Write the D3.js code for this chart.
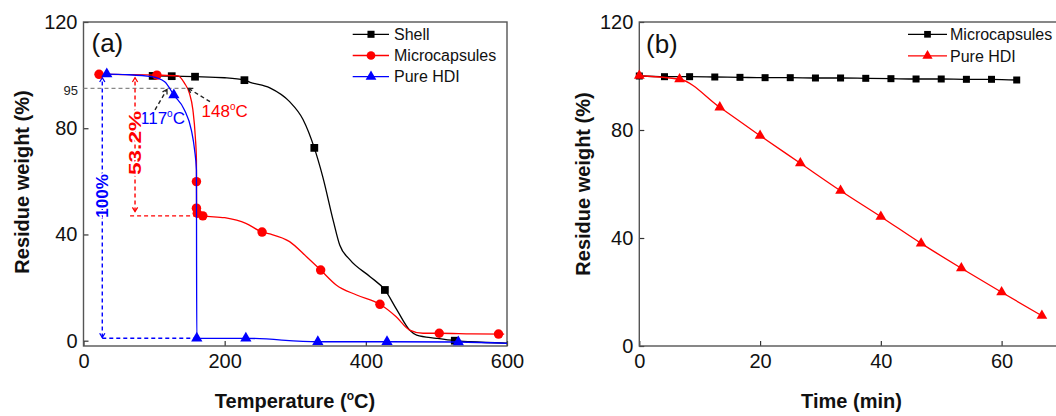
<!DOCTYPE html>
<html>
<head>
<meta charset="utf-8">
<script src="https://cdn.jsdelivr.net/npm/d3@7"></script>
<style>
body { margin: 0; background: #fff; }
text { font-family: "Liberation Sans", Arial, sans-serif; }
</style>
</head>
<body>
<svg id="chart" width="1056" height="416"></svg>
<script>
/* panel (a): TGA curves, [temperature (C), residue weight (%)] */
var shellLine = [[98,99.7],[125,99.6],[158,99.4],[200,99],[228,98.1],[236,97.3],[264,95.2],[292,90],[311,83.3],[327,72.6],[339,61.7],[354,45],[363,36],[377,30.6],[406,24.1],[427,19.1],[444,11.6],[462,4],[472,2.1],[500,0.9],[526,0],[548,-0.4],[600,-0.9]];
var shellMarks = [[98,99.7],[125,99.6],[158,99.4],[228,98.1],[327,72.6],[427,19.1],[526,0]];
var microLine = [[22,100.3],[60,100.2],[104,100],[134,99.7],[143,97],[150,93.2],[155,86.9],[158.4,76.8],[160,68],[160.1,59.9],[160.2,49.9],[161.2,48],[169,47],[200,46.3],[230,44.2],[253,40.9],[264,40.2],[292,37.3],[316,31.6],[336,26.6],[358,21],[387,17.2],[420,13.7],[443,9],[462,4],[481,2.8],[504,2.8],[550,2.6],[596,2.5]];
var microMarks = [[22,100.3],[104,100],[160,59.9],[160,49.9],[161.2,48],[169,47],[253,40.9],[336,26.6],[420,13.7],[504,2.8],[588,2.5]];
var hdiLine = [[33,100.4],[60,100.2],[96,99.4],[115,97.5],[128,92.5],[143,86.9],[152.8,79.3],[157.4,71.8],[160,64.3],[160.2,30],[160.5,0.9],[230,0.9],[332,-0.4],[430,-0.4],[531,-0.5],[600,-1]];
var hdiMarks = [[33,100.4],[128,92.5],[160.5,0.9],[230,0.9],[332,-0.4],[430,-0.4],[531,-0.5]];

/* panel (b): isothermal weight loss */
var timeMicro = [0,4.17,8.33,12.5,16.67,20.83,25,29.17,33.33,37.5,41.67,45.83,50,54.17,58.33,62.5];
var weightMicro = [100,99.75,99.75,99.63,99.5,99.38,99.38,99.26,99.26,99.14,99.01,98.89,98.89,98.77,98.77,98.52];
var timeHdi = [0,6.67,13.33,20,26.67,33.33,40,46.67,53.33,60,66.67];
var weightHdi = [100.1,98.8,88.4,77.9,67.7,57.5,47.9,38.0,28.8,19.9,11.2];

var tempTicks = [0,200,400,600];
var timeTicks = [0,20,40,60];
var weightTicks = [0,40,80,120];

var RED = "#ff0000", BLUE = "#0000ff", BLACK = "#000";
var svg = d3.select("#chart");

var xa = d3.scaleLinear().domain([0,600]).range([83.5,507]);
var ya = d3.scaleLinear().domain([-2,120]).range([346,22]);
var xb = d3.scaleLinear().domain([0,70]).range([639.3,1062]);
var yb = d3.scaleLinear().domain([0,120]).range([346,22]);

function axes(x, y, xt, yt) {
  var gx = svg.append("g").attr("transform","translate(0,346)")
    .call(d3.axisBottom(x).tickValues(xt).tickSizeInner(-5).tickSizeOuter(0).tickPadding(8));
  var gy = svg.append("g").attr("transform","translate(" + x.range()[0] + ",0)")
    .call(d3.axisLeft(y).tickValues(yt).tickSizeInner(-5).tickSizeOuter(0).tickPadding(6));
  [gx, gy].forEach(function(g) {
    g.select(".domain").remove();
    g.selectAll("line").attr("stroke","#333").attr("stroke-width",1.2);
    g.selectAll("text").attr("font-size",20).attr("fill","#111")
      .attr("font-family","Liberation Sans, Arial, sans-serif");
  });
  svg.append("rect").attr("x",x.range()[0]).attr("y",22)
    .attr("width",x.range()[1]-x.range()[0]).attr("height",324)
    .attr("fill","none").attr("stroke","#555").attr("stroke-width",1.4);
}
axes(xa, ya, tempTicks, weightTicks);
axes(xb, yb, timeTicks, weightTicks);

var sym = {
  square: d3.symbolSquare, circle: d3.symbolCircle, triangle: d3.symbolTriangle
};
function series(x, y, line, marks, color, shape, size) {
  var l = d3.line().x(function(d){return x(d[0]);}).y(function(d){return y(d[1]);})
    .curve(d3.curveMonotoneX);
  svg.append("path").datum(line).attr("d",l).attr("fill","none")
    .attr("stroke",color).attr("stroke-width",1.3);
  svg.selectAll(null).data(marks).enter().append("path")
    .attr("d",d3.symbol().type(sym[shape]).size(size))
    .attr("transform",function(d){return "translate(" + x(d[0]) + "," + y(d[1]) + ")";})
    .attr("fill",color);
}

/* ---------- panel (a) ---------- */
var dash = "4,3";
function chevron(px, py, ang, color) {
  var s = 5, a1 = ang + Math.PI - 0.55, a2 = ang + Math.PI + 0.55;
  svg.append("path")
    .attr("d","M" + (px + s*Math.cos(a1)) + "," + (py + s*Math.sin(a1)) + "L" + px + "," + py +
      "L" + (px + s*Math.cos(a2)) + "," + (py + s*Math.sin(a2)))
    .attr("fill","none").attr("stroke",color).attr("stroke-width",1.3);
}
function dline(x1, y1, x2, y2, color, head1, head2) {
  svg.append("line").attr("x1",x1).attr("y1",y1).attr("x2",x2).attr("y2",y2)
    .attr("stroke",color).attr("stroke-width",1.4).attr("stroke-dasharray",dash);
  var ang = Math.atan2(y2-y1, x2-x1);
  if (head2) chevron(x2, y2, ang, color);
  if (head1) chevron(x1, y1, ang + Math.PI, color);
}

// 95 % reference line
dline(xa(0), ya(95), xa(152), ya(95), "#888", false, false);
svg.append("text").attr("x",78).attr("y",ya(95)+2).attr("dy","0.35em")
  .attr("text-anchor","end").attr("font-size",13).attr("fill","#222").text("95");

// mass loss arrows
dline(xa(26.6), ya(1.2), xa(26.6), ya(99), BLUE, true, true);
dline(xa(26.6), ya(0.9), xa(160), ya(0.9), BLUE, false, false);
dline(xa(73), ya(48.6), xa(73), ya(99), RED, true, true);
dline(xa(66), ya(47), xa(162), ya(47), RED, false, false);

series(xa, ya, shellLine, shellMarks, BLACK, "square", 60);
series(xa, ya, microLine, microMarks, RED, "circle", 70);
series(xa, ya, hdiLine, hdiMarks, BLUE, "triangle", 55);

// black pointers to onset temperatures
dline(xa(101.3), ya(86.9), xa(118.2), ya(94.6), "#222", false, true);
dline(xa(179.2), ya(90), xa(148.5), ya(95), "#222", false, true);

function degLabel(x, y, num, color) {
  var t = svg.append("text").attr("x",x).attr("y",y).attr("fill",color)
    .attr("font-family","Liberation Serif, Times New Roman, serif").attr("font-size",17);
  t.append("tspan").text(num);
  t.append("tspan").attr("font-size",10).attr("dy",-7).text("o");
  t.append("tspan").attr("dy",7).text("C");
}
degLabel(140, 124, "117", BLUE);
degLabel(201.5, 117, "148", RED);

function vLabel(x, y, txt, color, len) {
  var t = svg.append("text").attr("transform","translate(" + x + "," + y + ") rotate(-90)")
    .attr("text-anchor","middle").attr("dy","0.36em").attr("font-weight","bold")
    .attr("font-size",17).attr("fill",color)
    .attr("stroke","#fff").attr("stroke-width",3).attr("paint-order","stroke").text(txt);
  if (len) t.attr("textLength",len).attr("lengthAdjust","spacingAndGlyphs");
}
vLabel(xa(73), 143, "53.2%", RED, 64);
vLabel(xa(26.6), 196, "100%", BLUE, 0);

svg.append("text").attr("x",91.5).attr("y",52).attr("font-size",26).attr("fill","#111").text("(a)");

// legend (a)
var legA = [["Shell",BLACK,"square",50],["Microcapsules",RED,"circle",60],["Pure HDI",BLUE,"triangle",50]];
legA.forEach(function(d, i) {
  var yy = 34.3 + i*21.2;
  svg.append("line").attr("x1",352.7).attr("x2",389).attr("y1",yy).attr("y2",yy)
    .attr("stroke",d[1]).attr("stroke-width",1.3);
  svg.append("path").attr("d",d3.symbol().type(sym[d[2]]).size(d[3]))
    .attr("transform","translate(371," + yy + ")").attr("fill",d[1]);
  svg.append("text").attr("x",394).attr("y",yy).attr("dy","0.36em")
    .attr("font-size",16).attr("fill","#111").text(d[0]);
});

// axis titles (a)
svg.append("text").attr("transform","translate(29,182) rotate(-90)").attr("text-anchor","middle")
  .attr("font-size",20).attr("font-weight","bold").attr("fill","#111").text("Residue weight (%)");
var tt = svg.append("text").attr("x",295).attr("y",408).attr("text-anchor","middle")
  .attr("font-size",20).attr("font-weight","bold").attr("fill","#111");
tt.append("tspan").text("Temperature (");
tt.append("tspan").attr("font-size",12).attr("dy",-8).text("o");
tt.append("tspan").attr("dy",8).text("C)");

/* ---------- panel (b) ---------- */
series(xb, yb, timeMicro.map(function(t,i){return [t, weightMicro[i]];}),
  timeMicro.map(function(t,i){return [t, weightMicro[i]];}), BLACK, "square", 49);
series(xb, yb, timeHdi.map(function(t,i){return [t, weightHdi[i]];}),
  timeHdi.map(function(t,i){return [t, weightHdi[i]];}), RED, "triangle", 50);

svg.append("text").attr("x",646).attr("y",52.5).attr("font-size",26).attr("fill","#111").text("(b)");

var legB = [["Microcapsules",BLACK,"square",45],["Pure HDI",RED,"triangle",45]];
legB.forEach(function(d, i) {
  var yy = 34.3 + i*21.6;
  svg.append("line").attr("x1",908).attr("x2",947).attr("y1",yy).attr("y2",yy)
    .attr("stroke",d[1]).attr("stroke-width",1.3);
  svg.append("path").attr("d",d3.symbol().type(sym[d[2]]).size(d[3]))
    .attr("transform","translate(927.5," + yy + ")").attr("fill",d[1]);
  svg.append("text").attr("x",950).attr("y",yy).attr("dy","0.36em")
    .attr("font-size",16).attr("fill","#111").text(d[0]);
});

svg.append("text").attr("transform","translate(590,184) rotate(-90)").attr("text-anchor","middle")
  .attr("font-size",20).attr("font-weight","bold").attr("fill","#111").text("Residue weight (%)");
svg.append("text").attr("x",851.5).attr("y",408).attr("text-anchor","middle")
  .attr("font-size",20).attr("font-weight","bold").attr("fill","#111").text("Time (min)");
</script>
</body>
</html>
